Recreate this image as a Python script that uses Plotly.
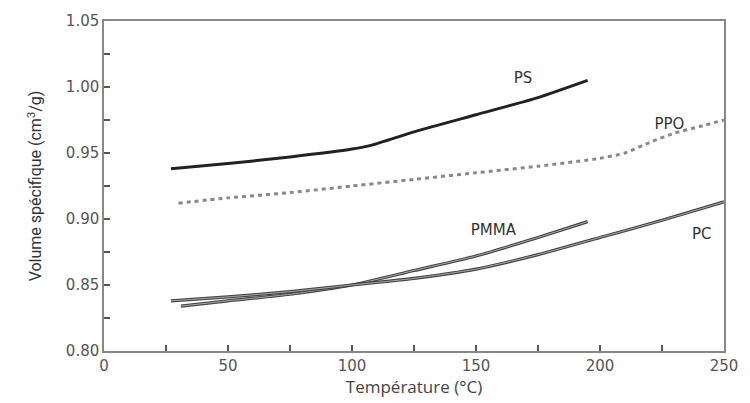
import plotly.graph_objects as go

# Data
ps_T = [27, 50, 75, 100, 108, 125, 150, 175, 195]
ps_V = [0.938, 0.942, 0.947, 0.953, 0.956, 0.966, 0.979, 0.992, 1.005]

ppo_T = [30, 50, 75, 100, 125, 150, 175, 200, 210, 220, 230, 240, 250]
ppo_V = [0.912, 0.916, 0.920, 0.925, 0.930, 0.935, 0.940, 0.946, 0.950, 0.958, 0.965, 0.970, 0.975]

pmma_T = [31, 50, 75, 100, 125, 150, 175, 195]
pmma_V = [0.834, 0.838, 0.843, 0.850, 0.861, 0.872, 0.886, 0.898]

pc_T = [27, 50, 75, 100, 125, 150, 175, 200, 225, 250]
pc_V = [0.838, 0.841, 0.845, 0.850, 0.855, 0.862, 0.873, 0.886, 0.899, 0.913]

labels = ["PS", "PPO", "PMMA", "PC"]
label_T = [169, 228, 157, 241]
label_V = [1.006, 0.971, 0.891, 0.8875]

x_ticks = [0, 50, 100, 150, 200, 250]
y_ticks = [0.80, 0.85, 0.90, 0.95, 1.00, 1.05]

fig = go.Figure()
fig.add_trace(go.Scatter(x=ps_T, y=ps_V, mode="lines", line=dict(color="#222", width=3, shape="spline", smoothing=0.6)))
fig.add_trace(go.Scatter(x=ppo_T, y=ppo_V, mode="lines", line=dict(color="#888", width=3, dash="4px,4px", shape="spline", smoothing=0.6)))
fig.add_trace(go.Scatter(x=pmma_T, y=pmma_V, mode="lines", line=dict(color="#444", width=3.2, shape="spline", smoothing=0.6)))
fig.add_trace(go.Scatter(x=pmma_T, y=pmma_V, mode="lines", line=dict(color="#aaa", width=1, shape="spline", smoothing=0.6)))
fig.add_trace(go.Scatter(x=pc_T, y=pc_V, mode="lines", line=dict(color="#444", width=3.2, shape="spline", smoothing=0.6)))
fig.add_trace(go.Scatter(x=pc_T, y=pc_V, mode="lines", line=dict(color="#aaa", width=1, shape="spline", smoothing=0.6)))
fig.add_trace(go.Scatter(x=label_T, y=label_V, mode="text", text=labels,
                         textfont=dict(family="DejaVu Sans", size=15, color="#333"),
                         textposition="middle center"))

axis_common = dict(showline=True, linecolor="#888", linewidth=1.5, mirror=True,
                   ticks="inside", ticklen=6, tickcolor="#555", tickwidth=1.5,
                   showgrid=False, zeroline=False,
                   tickfont=dict(family="DejaVu Sans", size=15, color="#555"))

fig.update_xaxes(range=[0, 250], tickvals=x_ticks,
                 minor=dict(dtick=25, ticks="inside", ticklen=6, tickcolor="#555", tickwidth=1.5),
                 title=dict(text="Température (°C)", font=dict(family="Open Sans", size=17, color="#444"), standoff=4),
                 **axis_common)
fig.update_yaxes(range=[0.80, 1.05], tickvals=y_ticks, tickformat=".2f",
                 minor=dict(dtick=0.025, ticks="inside", ticklen=6, tickcolor="#555", tickwidth=1.5),
                 title=dict(text="Volume spécifique (cm<sup>3</sup>/g)", font=dict(family="Liberation Sans Narrow, Roboto", size=16, color="#333"), standoff=20),
                 **axis_common)

fig.update_layout(width=750, height=403, margin=dict(l=104, r=15, t=18, b=48),
                  paper_bgcolor="white", plot_bgcolor="white", showlegend=False)

fig.write_html("out.html",
               post_script="document.body.style.margin='0';document.body.style.overflow='hidden';")
